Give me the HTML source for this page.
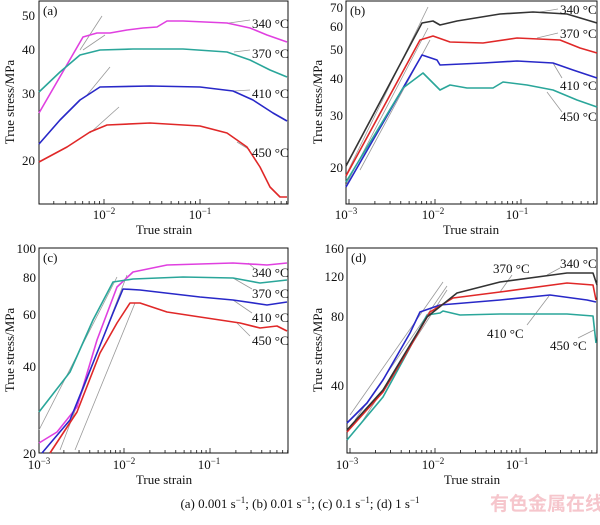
<!DOCTYPE html>
<html><head><meta charset="utf-8"><style>
html,body{margin:0;padding:0;background:#fff;}
svg text{font-family:"Liberation Serif",serif;fill:#111;}
</style></head><body>
<svg id="s" width="600" height="520" xmlns="http://www.w3.org/2000/svg">
<g fill="none" stroke="#111" stroke-width="1">
<rect x="39" y="1" width="249" height="203"/>
<rect x="346" y="1" width="251" height="203"/>
<rect x="39" y="248" width="249" height="205"/>
<rect x="347" y="248" width="250" height="205"/>
</g>
<g id="ticks" stroke="#111" stroke-width="0.8"></g>
<g fill="none" stroke="#999" stroke-width="0.8">
<line x1="80" y1="50" x2="102" y2="16"/><line x1="83" y1="50" x2="105" y2="35"/>
<line x1="87" y1="95" x2="110" y2="67"/><line x1="90" y1="133" x2="119" y2="107"/>
<line x1="346" y1="175" x2="428" y2="7"/><line x1="346" y1="185" x2="428" y2="28"/><line x1="360" y1="170" x2="430" y2="40"/>
<line x1="39" y1="430" x2="117" y2="277"/><line x1="60" y1="450" x2="127" y2="275"/><line x1="75" y1="450" x2="135" y2="303"/>
<line x1="350" y1="415" x2="443" y2="282"/><line x1="355" y1="420" x2="447" y2="286"/><line x1="360" y1="425" x2="447" y2="290"/>
<line x1="229" y1="23" x2="250" y2="20"/><line x1="234" y1="52" x2="250" y2="50"/><line x1="234" y1="91" x2="250" y2="90"/><line x1="237" y1="142" x2="250" y2="150"/>
<line x1="540" y1="12" x2="558" y2="9"/><line x1="537" y1="38" x2="558" y2="33"/><line x1="553" y1="63" x2="562" y2="78"/><line x1="547" y1="92" x2="562" y2="112"/>
<line x1="248" y1="263" x2="254" y2="268"/><line x1="233" y1="278" x2="252" y2="289"/><line x1="233" y1="300" x2="252" y2="313"/><line x1="237" y1="323" x2="250" y2="336"/>
<line x1="500" y1="292" x2="512" y2="275"/><line x1="547" y1="275" x2="560" y2="268"/><line x1="549" y1="296" x2="527" y2="325"/><line x1="594" y1="330" x2="578" y2="338"/>
</g>
<g fill="none" stroke-width="1.6" stroke-linejoin="round">
<polyline stroke="#e040e0" points="39,113 83,37 97,33 110,33 127,30 143,28 157,27 167,21 183,21 227,23 250,28 267,35 287,42"/>
<polyline stroke="#2aa69a" points="39,92 60,72 80,55 100,50 133,49 183,49 227,52 250,60 270,70 287,77"/>
<polyline stroke="#2828c8" points="39,144 60,120 80,100 100,87 150,86 200,87 233,91 253,100 273,113 287,121"/>
<polyline stroke="#e02828" points="39,162 67,147 90,132 107,125 150,123 200,126 227,133 247,147 260,167 270,187 280,197 287,197"/>
<polyline stroke="#333" points="346,166 422,23 433,21 440,25 457,21 500,14 533,12 567,14 597,23"/>
<polyline stroke="#e02828" points="346,176 420,40 433,36 450,42 483,43 517,38 560,40 580,48 597,53"/>
<polyline stroke="#2828c8" points="346,187 422,55 437,60 440,65 483,63 517,61 553,63 573,70 597,78"/>
<polyline stroke="#2aa69a" points="346,182 403,88 423,73 433,83 440,90 450,85 467,88 493,88 503,82 527,85 553,90 577,100 597,107"/>
<polyline stroke="#e040e0" points="39,443 57,432 77,407 97,340 117,287 133,272 167,265 233,263 267,265 287,263"/>
<polyline stroke="#2aa69a" points="39,412 70,372 93,320 113,282 133,279 183,277 233,278 260,283 287,280"/>
<polyline stroke="#2828c8" points="42,453 70,420 93,363 113,313 123,289 140,290 200,297 233,300 267,305 287,302"/>
<polyline stroke="#e02828" points="50,453 77,412 100,353 117,323 130,303 140,303 167,312 200,317 240,323 260,328 277,326 287,331"/>
<polyline stroke="#2aa69a" points="347,440 383,397 407,353 427,315 440,313 443,311 460,315 500,314 567,314 593,316 596,343"/>
<polyline stroke="#2828c8" points="347,423 367,403 383,380 410,333 420,312 440,305 500,300 550,295 587,300 596,302"/>
<polyline stroke="#e02828" points="347,432 383,392 410,347 430,312 453,298 500,292 567,283 593,285 596,300"/>
<polyline stroke="#333" points="347,430 383,390 407,350 427,317 457,293 500,282 567,273 593,273 597,285"/>
</g>
<g font-size="13">
<text x="43" y="15">(a)</text><text x="350" y="15">(b)</text><text x="43" y="262">(c)</text><text x="351" y="262">(d)</text>
<text x="252" y="28">340 °C</text><text x="252" y="58">370 °C</text><text x="252" y="98">410 °C</text><text x="252" y="157">450 °C</text>
<text x="560" y="14">340 °C</text><text x="560" y="38">370 °C</text><text x="560" y="90">410 °C</text><text x="560" y="121">450 °C</text>
<text x="252" y="277">340 °C</text><text x="252" y="298">370 °C</text><text x="252" y="322">410 °C</text><text x="252" y="345">450 °C</text>
<text x="493" y="273">370 °C</text><text x="560" y="268">340 °C</text><text x="487" y="338">410 °C</text><text x="550" y="350">450 °C</text>
<g text-anchor="end">
<text x="35" y="20">50</text><text x="35" y="54">40</text><text x="35" y="98">30</text><text x="35" y="165">20</text>
<text x="343" y="12">70</text><text x="343" y="31">60</text><text x="343" y="54">50</text><text x="343" y="83">40</text><text x="343" y="120">30</text><text x="343" y="172">20</text>
<text x="36" y="253">100</text><text x="36" y="282">80</text><text x="36" y="319">60</text><text x="36" y="371">40</text><text x="36" y="458">20</text>
<text x="344" y="253">160</text><text x="344" y="281">120</text><text x="344" y="321">80</text><text x="344" y="390">40</text>
</g>
<g text-anchor="middle">
<text x="104" y="219">10<tspan font-size="9" dy="-5">−2</tspan></text><text x="200" y="219">10<tspan font-size="9" dy="-5">−1</tspan></text>
<text x="346" y="219">10<tspan font-size="9" dy="-5">−3</tspan></text><text x="433" y="219">10<tspan font-size="9" dy="-5">−2</tspan></text><text x="517" y="219">10<tspan font-size="9" dy="-5">−1</tspan></text>
<text x="39" y="469">10<tspan font-size="9" dy="-5">−3</tspan></text><text x="124" y="469">10<tspan font-size="9" dy="-5">−2</tspan></text><text x="209" y="469">10<tspan font-size="9" dy="-5">−1</tspan></text>
<text x="347" y="469">10<tspan font-size="9" dy="-5">−3</tspan></text><text x="433" y="469">10<tspan font-size="9" dy="-5">−2</tspan></text><text x="517" y="469">10<tspan font-size="9" dy="-5">−1</tspan></text>
<text x="164" y="234">True strain</text><text x="471" y="234">True strain</text>
<text x="164" y="484">True strain</text><text x="472" y="484">True strain</text>
<text transform="translate(14,102) rotate(-90)">True stress/MPa</text>
<text transform="translate(322,102) rotate(-90)">True stress/MPa</text>
<text transform="translate(14,350) rotate(-90)">True stress/MPa</text>
<text transform="translate(322,350) rotate(-90)">True stress/MPa</text>
<text x="300" y="508">(a) 0.001 s<tspan font-size="9" dy="-5">−1</tspan><tspan dy="5">; (b) 0.01 s</tspan><tspan font-size="9" dy="-5">−1</tspan><tspan dy="5">; (c) 0.1 s</tspan><tspan font-size="9" dy="-5">−1</tspan><tspan dy="5">; (d) 1 s</tspan><tspan font-size="9" dy="-5">−1</tspan></text>
</g>
</g>
<text x="490" y="510" font-size="19" font-weight="bold" style="font-family:'Noto Sans CJK SC',sans-serif;fill:#f6c6cc">有色金属在线</text>
</svg>
<script>
var g=document.getElementById('ticks'),h='';
function xt(x0,dec,l0,l1,ybot,ytop){for(var d=l0;d<=l1;d++)for(var m=1;m<10;m++){var x=x0+(d+Math.log10(m))*dec;if(x<ybot[0]||x>ybot[1])continue;var L=m==1?5:3;h+='<line x1="'+x+'" y1="'+ytop+'" x2="'+x+'" y2="'+(ytop-L)+'"/>';}}
xt(104+2*96,96,-3,0,[39,288],204);
xt(433+2*87,86,-3,0,[346,597],204);
xt(124+2*86,86,-3,0,[39,288],453);
xt(433+2*86,85,-3,0,[347,597],453);
g.innerHTML=h;
</script>
</body></html>
